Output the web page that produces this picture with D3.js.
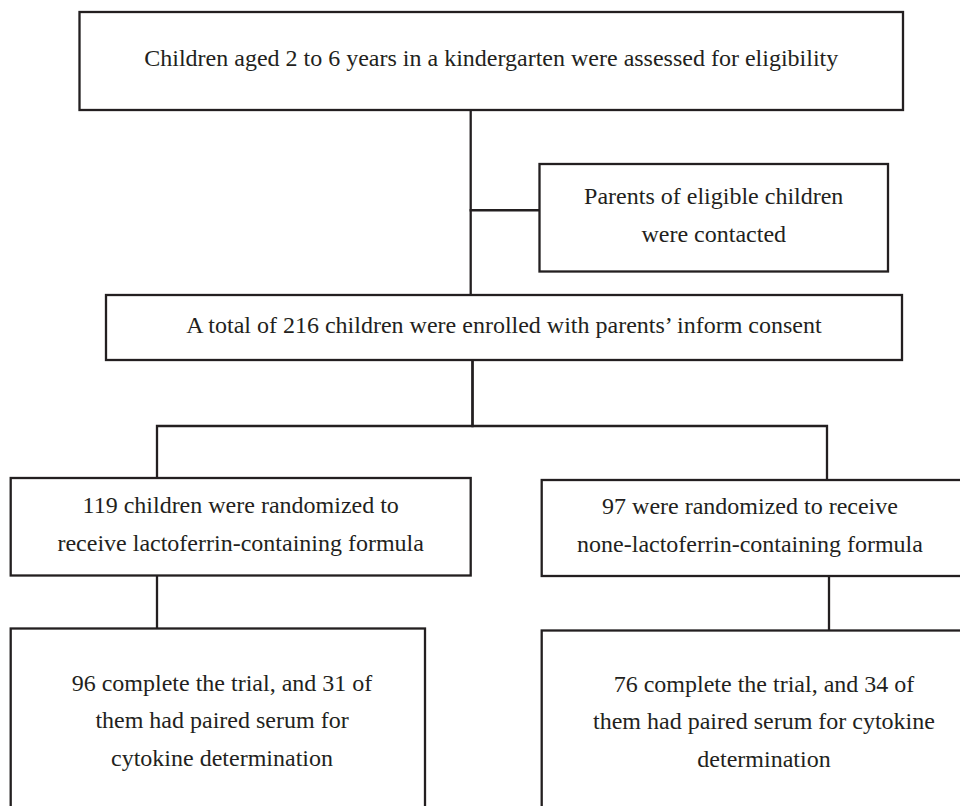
<!doctype html>
<html lang="en">
<head>
<meta charset="utf-8">
<title>Study flow chart</title>
<style>
body { margin: 0; background: #fff; }
svg { display: block; }
</style>
</head>
<body>
<div id="chart"></div>
<script src="https://d3js.org/d3.v7.min.js"></script>
<script>
// box texts, one entry per line
var boxIds = ["assessed", "contacted", "enrolled", "lacto", "none", "lactoDone", "noneDone"];
var boxLines = [
    ["Children aged 2 to 6 years in a kindergarten were assessed for eligibility"],
    ["Parents of eligible children", "were contacted"],
    ["A total of 216 children were enrolled with parents\u2019 inform consent"],
    ["119 children were randomized to", "receive lactoferrin-containing formula"],
    ["97 were randomized to receive", "none-lactoferrin-containing formula"],
    ["96 complete the trial, and 31 of", "them had paired serum for", "cytokine determination"],
    ["76 complete the trial, and 34 of", "them had paired serum for cytokine", "determination"]
];
// which box leads to which
var links = [
    ["assessed", "enrolled"],
    ["assessed", "contacted"],
    ["enrolled", "lacto"],
    ["enrolled", "none"],
    ["lacto", "lactoDone"],
    ["none", "noneDone"]
];

var width = 960, height = 806;

// layout of the boxes (x0, y0, x1, y1)
var layout = {
    assessed:  [79.5, 12, 903, 110],
    contacted: [539.5, 164, 888, 271.5],
    enrolled:  [106, 295, 902, 360],
    lacto:     [10.7, 478, 470.7, 575.5],
    none:      [541.7, 480, 962, 576],
    lactoDone: [10.7, 628.5, 425, 818],
    noneDone:  [541.7, 630.5, 986, 818]
};

var svg = d3.select("#chart").append("svg")
    .attr("width", width)
    .attr("height", height);

var ink = "#231f20";
var lh = 37.5;

var boxes = boxIds.map(function(id, i) {
    var b = layout[id];
    return {id: id, lines: boxLines[i], x0: b[0], y0: b[1], x1: b[2], y1: b[3]};
});
var byId = {};
boxes.forEach(function(b) { byId[b.id] = b; });

// connectors
var trunkX = {assessed: 470.7, enrolled: 472.5};
var splitY = 426;
function linkPath(l) {
    var s = byId[l[0]], t = byId[l[1]];
    var p = d3.path();
    if (l[0] === "assessed" && l[1] === "enrolled") {
        p.moveTo(trunkX.assessed, s.y1); p.lineTo(trunkX.assessed, t.y0);
    } else if (l[0] === "assessed") {
        var my = (t.y0 + t.y1) / 2 - 7.5;
        p.moveTo(trunkX.assessed, my); p.lineTo(t.x0, my);
    } else if (l[0] === "enrolled") {
        var tx = t.id === "lacto" ? 157 : 827;
        p.moveTo(trunkX.enrolled, s.y1); p.lineTo(trunkX.enrolled, splitY);
        p.moveTo(trunkX.enrolled, splitY); p.lineTo(tx, splitY);
        p.moveTo(tx, splitY); p.lineTo(tx, t.y0);
    } else {
        var x = l[0] === "lacto" ? 157 : 829;
        p.moveTo(x, s.y1); p.lineTo(x, t.y0);
    }
    return p.toString();
}

svg.append("g")
    .selectAll("path")
    .data(links)
    .join("path")
    .attr("d", linkPath)
    .attr("fill", "none")
    .attr("stroke", ink)
    .attr("stroke-width", 2.3)
    .attr("stroke-linecap", "square");

var g = svg.append("g")
    .selectAll("g")
    .data(boxes)
    .join("g");

g.append("rect")
    .attr("x", function(d) { return d.x0; })
    .attr("y", function(d) { return d.y0; })
    .attr("width", function(d) { return d.x1 - d.x0; })
    .attr("height", function(d) { return d.y1 - d.y0; })
    .attr("fill", "#fff")
    .attr("stroke", ink)
    .attr("stroke-width", 2.3);

g.append("text")
    .attr("text-anchor", "middle")
    .style("font-family", "'Liberation Serif', 'Times New Roman', serif")
    .style("font-size", "24px")
    .attr("fill", ink)
    .selectAll("tspan")
    .data(function(d) {
        var cx = (d.x0 + d.x1) / 2, cy = (d.y0 + d.y1) / 2, n = d.lines.length;
        if (d.id === "noneDone") cx = 764;
        if (d.id === "lactoDone") cx = 222;
        if (d.id === "none") cx = 750;
        return d.lines.map(function(t, i) {
            return {t: t, x: cx, y: cy + (i - (n - 1) / 2) * lh + 5};
        });
    })
    .join("tspan")
    .attr("x", function(d) { return d.x; })
    .attr("y", function(d) { return d.y; })
    .text(function(d) { return d.t; });
</script>
</body>
</html>
